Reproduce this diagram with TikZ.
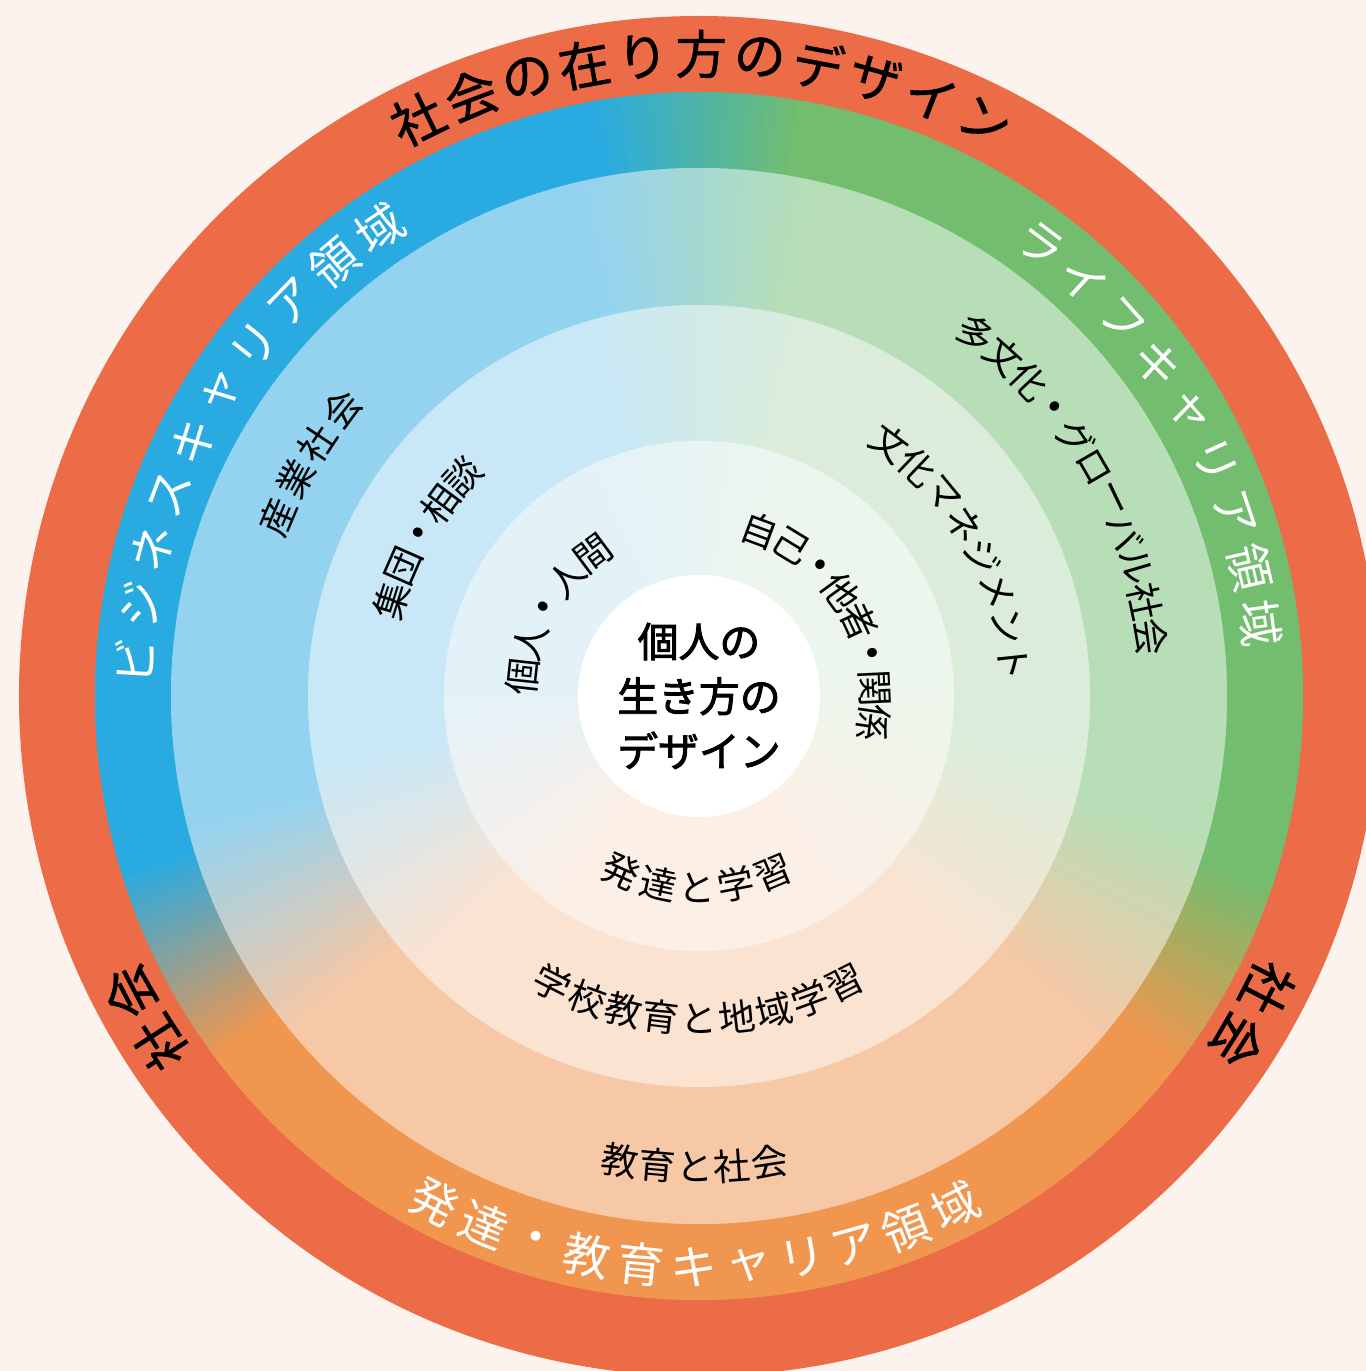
\documentclass[tikz,border=0pt]{standalone}
\usepackage{fontspec}
\setmainfont{Noto Sans CJK JP}
\newfontfamily\medfont[FakeBold=1]{Noto Sans CJK JP}
\newfontfamily\ctrfont[FakeBold=2.2]{Noto Sans CJK JP}
\definecolor{bgc}{HTML}{FDF3EE}
\definecolor{redc}{HTML}{EC6C48}
\definecolor{b1}{HTML}{29ABE2}\definecolor{g1}{HTML}{72BD6E}\definecolor{o1}{HTML}{F1964F}
\definecolor{b2}{HTML}{94D3EF}\definecolor{g2}{HTML}{B7DEB6}\definecolor{o2}{HTML}{F6C8A6}
\definecolor{b3}{HTML}{C8E8F7}\definecolor{g3}{HTML}{DBEDDA}\definecolor{o3}{HTML}{FBE3D2}
\definecolor{b4}{HTML}{E3F2F9}\definecolor{g4}{HTML}{EDF6EC}\definecolor{o4}{HTML}{FCEFE6}
\tikzset{
  ttl/.style={font=\medfont\fontsize{52}{60}\selectfont, text=black, inner sep=0pt},
  wht/.style={font=\fontsize{47}{55}\selectfont, text=white, inner sep=0pt},
  lbl/.style={font=\fontsize{37}{44}\selectfont, text=black, inner sep=0pt},
  ctr/.style={font=\ctrfont\fontsize{41}{55}\selectfont, text=black, align=center, inner sep=0pt},
}
% clockwise text, tops outward
\newcommand\cwtext[6]{%
  \foreach \ch [count=\i from 0] in {#6}{%
    \pgfmathsetmacro\ang{#3-\i*#4}%
    \node[#5, rotate=\ang-90] (#1\i) at (\ang:#2 bp) {\ch};}}
% counter-clockwise text, tops inward
\newcommand\ccwtext[6]{%
  \foreach \ch [count=\i from 0] in {#6}{%
    \pgfmathsetmacro\ang{#3+\i*#4}%
    \node[#5, rotate=\ang+90] (#1\i) at (\ang:#2 bp) {\ch};}}
\begin{document}
\begin{tikzpicture}[x=1bp,y=1bp]
\useasboundingbox (-699,-675) rectangle (667,696);
\fill[bgc] (-699,-675) rectangle (667,696);
\fill[redc] (0,0) circle[radius=680bp];
% coloured rings
\foreach \r/\B/\G/\O/\w in {604/b1/g1/o1/10, 528/b2/g2/o2/12.5, 391/b3/g3/o3/18, 255/b4/g4/o4/30}{
  \foreach \a in {-92,...,267}{
    \ifnum\a<29
      \pgfmathsetmacro\f{max(0,min(100,(\a+28+\w)/(2*\w)*100))}%
      \colorlet{cc}{\G!\f!\O}%
    \else\ifnum\a<149
      \pgfmathsetmacro\f{max(0,min(100,(\a-90+\w)/(2*\w)*100))}%
      \colorlet{cc}{\B!\f!\G}%
    \else
      \pgfmathsetmacro\f{max(0,min(100,(\a-207+\w)/(2*\w)*100))}%
      \colorlet{cc}{\O!\f!\B}%
    \fi\fi
    \fill[cc] (0,0) -- (\a-0.4:\r bp) arc[start angle=\a-0.4, end angle=\a+1.4, radius=\r bp] -- cycle;
  }
}
\fill[white] (0,0) circle[radius=121bp];
% outer ring texts
\cwtext{tt}{642}{116}{5.24}{ttl}{社,会,の,在,り,方,の,デ,ザ,イ,ン}
\cwtext{ll}{641}{212.8}{5.3}{ttl}{社,会}
\cwtext{lr}{639}{-27.2}{5.4}{ttl}{社,会}
% domain ring texts
\cwtext{bz}{566}{176.5}{5.8}{wht}{ビ,ジ,ネ,ス,キ,ャ,リ,ア,領,域}
\cwtext{lf}{566}{53}{5.7}{wht}{ラ,イ,フ,キ,ャ,リ,ア,領,域}
\ccwtext{ed}{571}{242.4}{5.43}{wht}{発,達,・,教,育,キ,ャ,リ,ア,領,域}
% ring 2
\cwtext{sa}{458}{157}{5.27}{lbl}{産,業,社,会}
\cwtext{ta}{456}{52.6}{4.51}{lbl}{多,文,化,•,グ,ロ,ー,バ,ル,社,会}
\ccwtext{ks}{471}{260.4}{4.55}{lbl}{教,育,と,社,会}
% ring 3
\cwtext{sd}{322}{162.7}{6.4}{lbl}{集,団,•,相,談}
\cwtext{bm}{316}{53}{6.71}{lbl}{文,化,マ,ネ,ジ,メ,ン,ト}
\ccwtext{gk}{323}{243}{6.74}{lbl}{学,校,教,育,と,地,域,学,習}
% ring 4
\cwtext{kn}{177}{173.8}{11.8}{lbl}{個,人,•,人,間}
\cwtext{jt}{176}{69.8}{11.2}{lbl}{自,己,•,他,者,•,関,係}
\ccwtext{hg}{192}{246}{11.7}{lbl}{発,達,と,学,習}
% centre
\node[ctr] (centre) at (0,0) {個人の\\生き方の\\デザイン};
\end{tikzpicture}
\end{document}
